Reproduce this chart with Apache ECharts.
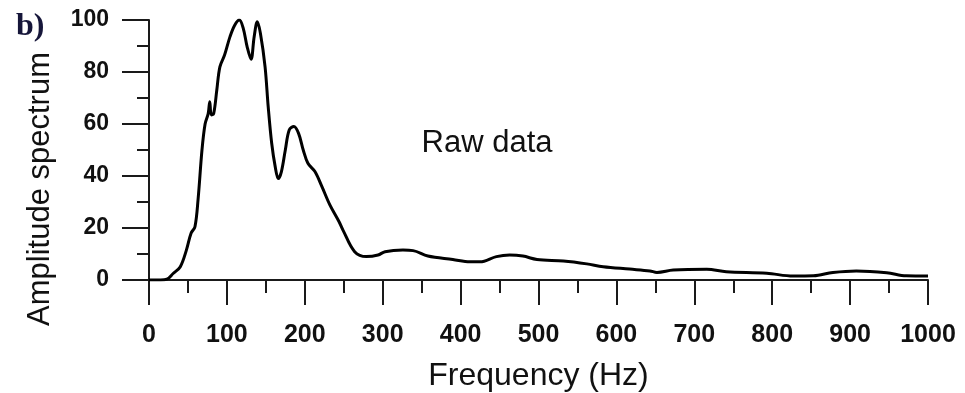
<!DOCTYPE html>
<html>
<head>
<meta charset="utf-8">
<script src="https://cdn.jsdelivr.net/npm/echarts@6/dist/echarts.min.js"></script>
<style>
  html, body { margin: 0; padding: 0; background: #fff; }
  #chart { width: 965px; height: 393px; }
</style>
</head>
<body>
<div id="chart"></div>
<script>
// Amplitude spectrum of the raw record, frequency in Hz
var frequency = [0, 15, 23, 31, 40, 48, 54, 59, 63, 68, 72, 76, 78, 80, 83, 87, 91, 97, 104, 110,
  116, 121, 126, 131, 135, 139, 143, 149, 153, 157.5, 162, 166, 170, 175, 180, 186, 192, 198, 204, 213,
  222, 232, 244, 249, 264, 279, 294, 303, 326, 339, 358, 390, 412, 425, 446, 463, 480, 498, 532, 562,
  583, 617, 643, 652, 673, 716, 741, 793, 827, 853, 878, 908, 947, 972, 1000];
var amplitude = [0, 0, 0.3, 2.5, 5, 11.5, 18, 20.5, 31, 50, 60, 64, 68.6, 63.5, 64, 73, 82, 86.5, 93.6, 98,
  100, 96.8, 89.7, 84.9, 93.6, 99.3, 94.9, 82, 66.7, 52.6, 43.6, 39, 41.7, 50, 57.7, 59, 56.4, 50, 44.9, 41.7,
  35.9, 29, 22.4, 19.2, 10.9, 9, 9.6, 10.9, 11.5, 11.3, 9.2, 7.9, 7, 7, 9, 9.6, 9.2, 7.9, 7.3, 6.2,
  5.1, 4.2, 3.5, 2.9, 3.8, 4.1, 3.2, 2.6, 1.5, 1.6, 2.9, 3.5, 2.8, 1.6, 1.5];

var xTicks = { min: 0, max: 1000, step: 100 };
var yTicks = { min: 0, max: 100, step: 20 };

var points = frequency.map(function (f, i) { return [f, amplitude[i]]; });

var sans = '"Liberation Sans", Arial, sans-serif';
var axisColor = '#1a1a1a';
var chart = echarts.init(document.getElementById('chart'), null, { renderer: 'canvas' });

chart.setOption({
  animation: false,
  backgroundColor: '#ffffff',
  grid: { left: 149, right: 37, top: 20, bottom: 113, outerBoundsMode: 'none', containLabel: false },
  xAxis: {
    type: 'value',
    min: xTicks.min, max: xTicks.max, interval: xTicks.step,
    name: 'Frequency (Hz)',
    nameLocation: 'middle',
    nameGap: 80,
    nameTextStyle: { fontFamily: sans, fontSize: 32, color: '#111' },
    axisLine: { show: true, onZero: false, lineStyle: { color: axisColor, width: 2 } },
    axisTick: { show: true, inside: false, length: 25, lineStyle: { color: axisColor, width: 2 } },
    minorTick: { show: true, splitNumber: 2, length: 13, lineStyle: { color: axisColor, width: 2 } },
    axisLabel: {
      margin: 43, fontFamily: sans, fontWeight: 'bold', fontSize: 25, color: '#111',
      formatter: function (v) { return String(v); }
    },
    splitLine: { show: false },
    minorSplitLine: { show: false }
  },
  yAxis: {
    type: 'value',
    min: yTicks.min, max: yTicks.max, interval: yTicks.step,
    axisLine: { show: true, onZero: false, lineStyle: { color: axisColor, width: 2 } },
    axisTick: { show: true, inside: false, length: 27, lineStyle: { color: axisColor, width: 2 } },
    minorTick: { show: true, splitNumber: 2, length: 12, lineStyle: { color: axisColor, width: 2 } },
    axisLabel: {
      margin: 40, fontFamily: sans, fontWeight: 'bold', fontSize: 23, color: '#111',
      formatter: function (v) { return String(v); }
    },
    splitLine: { show: false },
    minorSplitLine: { show: false }
  },
  graphic: [
    {
      type: 'text', left: 16, top: 11,
      style: { text: 'b)', fontFamily: '"Liberation Serif", "Times New Roman", serif', fontWeight: 'bold', fontSize: 32, fill: '#16163a' }
    },
    {
      // vertical axis title, reads bottom to top
      type: 'text', x: 56, y: 189, rotation: Math.PI / 2,
      style: { text: 'Amplitude spectrum', fontFamily: sans, fontSize: 31, fill: '#111',
        align: 'center', verticalAlign: 'bottom' }
    },
    {
      type: 'text', x: 487, y: 159,
      style: { text: 'Raw data', fontFamily: sans, fontSize: 31, fill: '#111',
        align: 'center', verticalAlign: 'bottom' }
    }
  ],
  series: [{
    type: 'line',
    data: points,
    smooth: 0.35,
    showSymbol: false,
    lineStyle: { color: '#000', width: 3 },
    z: 3
  }]
});
</script>
</body>
</html>
